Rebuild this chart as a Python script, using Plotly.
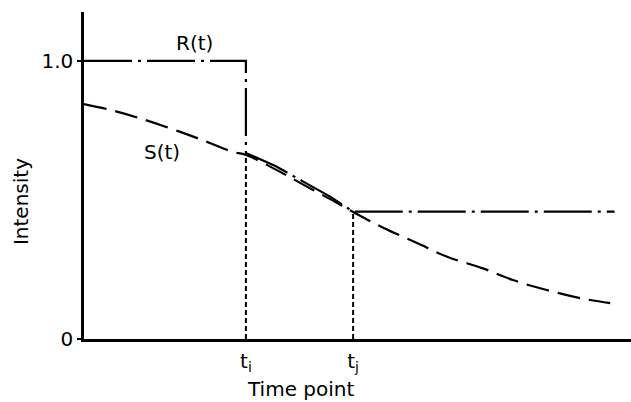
import plotly.graph_objects as go

# S(t): smooth signal curve (time units 0..10, intensity 0..1)
s_t = [0, 0.48, 1.0, 1.76, 2.3, 2.72, 2.96, 3.5, 4.0, 4.5, 4.92, 5.47, 6.09, 6.65, 7.28, 7.84, 8.46, 9.07, 9.62]
s_v = [0.845, 0.824, 0.795, 0.745, 0.705, 0.673, 0.662, 0.61, 0.556, 0.503, 0.457, 0.40, 0.345, 0.295, 0.255, 0.212, 0.176, 0.147, 0.129]

# R(t): piecewise reference curve
r_t = [0, 2.96, 2.96, 3.5, 4.0, 4.5, 4.92, 9.7]
r_v = [1.0, 1.0, 0.669, 0.622, 0.567, 0.512, 0.458, 0.458]

# time points t_i and t_j with the curve height at each
tp_t = [2.96, 4.92]
tp_v = [0.662, 0.457]
tp_labels = ["t<sub>i</sub>", "t<sub>j</sub>"]

y_ticks = [0, 1.0]
y_ticklabels = ["0", "1.0"]

FONT = "DejaVu Sans"

fig = go.Figure()

for t, v in zip(tp_t, tp_v):
    fig.add_trace(go.Scatter(x=[t, t], y=[0, v], mode="lines",
                             line=dict(color="black", width=2, dash="5px,3px"),
                             hoverinfo="skip"))

fig.add_trace(go.Scatter(x=s_t, y=s_v, mode="lines", line_shape="spline",
                         line=dict(color="black", width=2.2, dash="23px,9px"),
                         hoverinfo="skip"))

fig.add_trace(go.Scatter(x=r_t, y=r_v, mode="lines",
                         line=dict(color="black", width=2.2, dash="48px,6px,3px,6px"),
                         hoverinfo="skip"))

fig.add_annotation(x=2.02, y=1.065, text="R(t)", showarrow=False,
                   xanchor="center", yanchor="middle",
                   font=dict(family=FONT, size=20, color="black"))
fig.add_annotation(x=1.43, y=0.673, text="S(t)", showarrow=False,
                   xanchor="center", yanchor="middle",
                   font=dict(family=FONT, size=20, color="black"))

fig.add_annotation(xref="paper", yref="paper", x=-0.115, y=0.419, text="Intensity",
                   textangle=-90, showarrow=False, xanchor="center", yanchor="middle",
                   font=dict(family=FONT, size=20, color="black"))
fig.add_annotation(xref="paper", yref="paper", x=0.395, y=-0.195, text="Time point",
                   showarrow=False, xanchor="center", yanchor="bottom",
                   font=dict(family=FONT, size=20, color="black"))

fig.update_layout(
    width=631, height=402,
    margin=dict(l=84, r=0, t=12, b=63),
    paper_bgcolor="white", plot_bgcolor="white",
    showlegend=False, hovermode=False,
    font=dict(family=FONT, size=20, color="black"),
)
fig.update_xaxes(range=[0, 10], showgrid=False, zeroline=False,
                 showline=True, linecolor="black", linewidth=2.5,
                 tickvals=tp_t, ticktext=tp_labels,
                 tickfont=dict(color="black"),
                 ticks="outside", ticklen=2, tickcolor="rgba(0,0,0,0)")
fig.update_yaxes(range=[0, 1.176], showgrid=False, zeroline=False,
                 showline=True, linecolor="black", linewidth=2.5,
                 tickvals=y_ticks, ticktext=y_ticklabels,
                 ticks="outside", ticklen=4, tickwidth=2, tickcolor="black")

fig.write_html("out.html", config={"displayModeBar": False},
               post_script="document.body.style.margin='0';")
